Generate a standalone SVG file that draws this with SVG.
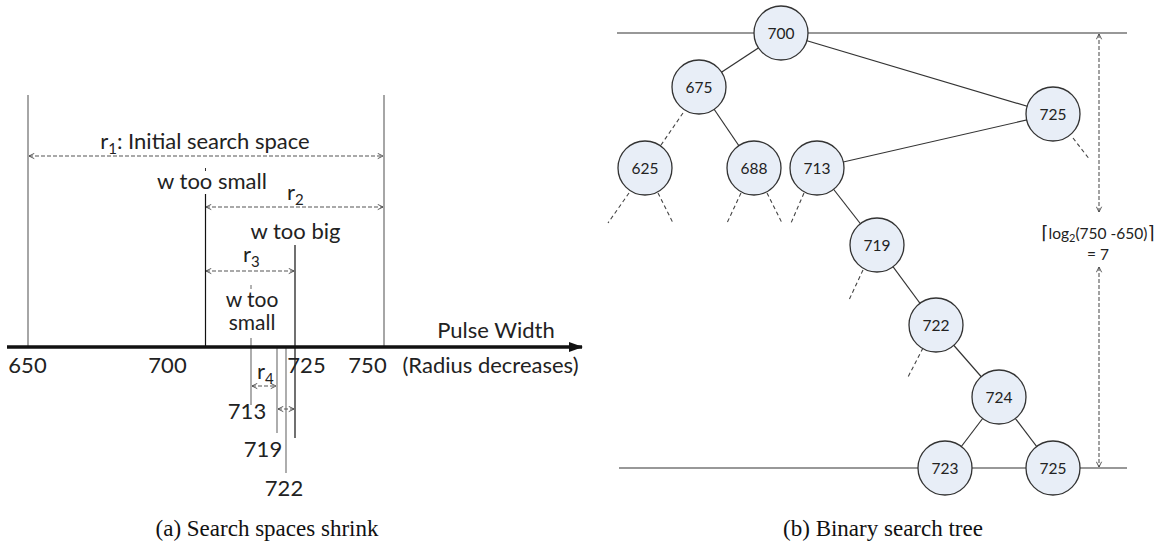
<svg xmlns="http://www.w3.org/2000/svg" width="1164" height="545" viewBox="0 0 1164 545">
<style>
.t{font-family:Lato,"Open Sans","DejaVu Sans",sans-serif;fill:#222}
.big{font-size:22px}
.nd circle{fill:#E8EEF7;stroke:#333;stroke-width:1.3}
.nd text{font-family:Lato,"Open Sans","DejaVu Sans",sans-serif;font-size:15.5px;fill:#222;text-anchor:middle}
.e{stroke:#333;stroke-width:1.2;fill:none}
.ed{stroke:#444;stroke-width:1.1;stroke-dasharray:4 3;fill:none}
.dim{stroke:#555;stroke-width:1.1;stroke-dasharray:4 2;fill:none;marker-start:url(#ah);marker-end:url(#ah)}
.cap{font-family:"Liberation Serif","Times New Roman",serif;font-size:23px;fill:#111;text-anchor:middle}
.ceil{font-family:"DejaVu Sans",sans-serif;font-size:18px}
</style>
<defs>
<marker id="ah" viewBox="0 0 8 8" refX="7" refY="4" markerWidth="7" markerHeight="7" markerUnits="userSpaceOnUse" orient="auto-start-reverse">
<path d="M1,1 L7,4 L1,7" fill="none" stroke="#444" stroke-width="1"/>
</marker>
<marker id="ax" viewBox="0 0 14 10" refX="13" refY="5" markerWidth="14" markerHeight="10" markerUnits="userSpaceOnUse" orient="auto">
<path d="M0,0 L14,5 L0,10 Z" fill="#111"/>
</marker>
</defs>

<!-- (a) Search spaces shrink -->
<g id="panel-a">
  <g id="a-lines">
    <line x1="28" y1="95" x2="28" y2="347" stroke="#888" stroke-width="1.5"/>
    <line x1="384" y1="95" x2="384" y2="347" stroke="#888" stroke-width="1.5"/>
    <line x1="205.5" y1="168" x2="205.5" y2="171" stroke="#333" stroke-width="1"/>
    <line x1="205.5" y1="194" x2="205.5" y2="347" stroke="#111" stroke-width="1.2"/>
    <line x1="295" y1="245" x2="295" y2="438" stroke="#111" stroke-width="1.2"/>
    <line x1="251" y1="285" x2="251" y2="289" stroke="#666" stroke-width="1"/>
    <line x1="251" y1="338" x2="251" y2="405" stroke="#777" stroke-width="1.2"/>
    <line x1="277" y1="348" x2="277" y2="433" stroke="#777" stroke-width="1.2"/>
    <line x1="286" y1="348" x2="286" y2="473" stroke="#777" stroke-width="1.2"/>
    <line x1="7" y1="347" x2="582" y2="347" stroke="#111" stroke-width="3.5" marker-end="url(#ax)"/>
  </g>
  <g id="a-ranges">
    <line class="dim" x1="29" y1="156" x2="383" y2="156"/>
    <line class="dim" x1="206" y1="207" x2="383" y2="207"/>
    <line class="dim" x1="206" y1="271" x2="294" y2="271"/>
    <line class="dim" x1="252" y1="386" x2="276" y2="386" stroke="#777"/>
    <line class="dim" x1="278" y1="409" x2="294" y2="409" stroke="#777"/>
  </g>
  <g id="a-labels" class="t big">
    <text x="205" y="149" text-anchor="middle">r<tspan font-size="15" dy="5">1</tspan><tspan dy="-5">: Initial search space</tspan></text>
    <text x="212" y="189" text-anchor="middle">w too small</text>
    <text x="287" y="200">r<tspan font-size="15" dy="5">2</tspan></text>
    <text x="295.5" y="239" text-anchor="middle">w too big</text>
    <text x="243" y="262">r<tspan font-size="15" dy="5">3</tspan></text>
    <text x="252" y="307" text-anchor="middle" font-size="21">w too</text>
    <text x="252" y="330" text-anchor="middle" font-size="21">small</text>
    <text x="257" y="379">r<tspan font-size="15" dy="5">4</tspan></text>
    <text x="247" y="419" text-anchor="middle">713</text>
    <text x="263" y="457" text-anchor="middle">719</text>
    <text x="284" y="496" text-anchor="middle">722</text>
    <text x="27.5" y="373" text-anchor="middle">650</text>
    <text x="167.5" y="373" text-anchor="middle">700</text>
    <text x="306.5" y="373" text-anchor="middle">725</text>
    <text x="367.5" y="373" text-anchor="middle">750</text>
    <text x="496" y="338" text-anchor="middle">Pulse Width</text>
    <text x="490.5" y="373" text-anchor="middle">(Radius decreases)</text>
  </g>
  <text class="cap" x="267" y="536">(a) Search spaces shrink</text>
</g>

<!-- (b) Binary search tree -->
<g id="connectors">
  <line class="e" x1="617" y1="33" x2="1127" y2="33"/>
  <line class="e" x1="619" y1="468" x2="1127" y2="468"/>
  <line class="e" x1="781" y1="33" x2="699" y2="87"/>
  <line class="e" x1="781" y1="33" x2="1053" y2="114"/>
  <line class="e" x1="699" y1="87" x2="754" y2="168"/>
  <line class="e" x1="1053" y1="114" x2="817" y2="168"/>
  <line class="e" x1="817" y1="168" x2="877" y2="245"/>
  <line class="e" x1="877" y1="245" x2="936" y2="325"/>
  <line class="e" x1="936" y1="325" x2="999" y2="397"/>
  <line class="e" x1="999" y1="397" x2="945" y2="468"/>
  <line class="e" x1="999" y1="397" x2="1053" y2="468"/>
  <line class="ed" x1="683" y1="113" x2="661" y2="145"/>
  <line class="ed" x1="629" y1="193" x2="608" y2="223"/>
  <line class="ed" x1="658" y1="193" x2="673" y2="223"/>
  <line class="ed" x1="741" y1="193" x2="727" y2="223"/>
  <line class="ed" x1="767" y1="193" x2="782" y2="223"/>
  <line class="ed" x1="804" y1="193" x2="791" y2="223"/>
  <line class="ed" x1="1073" y1="138" x2="1090" y2="160"/>
  <line class="ed" x1="863" y1="270" x2="849" y2="300"/>
  <line class="ed" x1="923" y1="348" x2="908" y2="377"/>
  <line class="dim" x1="1099" y1="34" x2="1099" y2="212" marker-end="none"/>
  <line class="dim" x1="1099" y1="267" x2="1099" y2="467" marker-start="none"/>
</g>
<g id="n700" class="nd"><circle cx="781" cy="33" r="27"/><text x="781" y="38.5">700</text></g>
<g id="n675" class="nd"><circle cx="699" cy="87" r="27"/><text x="699" y="92.5">675</text></g>
<g id="n625" class="nd"><circle cx="645" cy="168" r="27"/><text x="645" y="173.5">625</text></g>
<g id="n688" class="nd"><circle cx="754" cy="168" r="27"/><text x="754" y="173.5">688</text></g>
<g id="n713" class="nd"><circle cx="817" cy="168" r="27"/><text x="817" y="173.5">713</text></g>
<g id="n725a" class="nd"><circle cx="1053" cy="114" r="27"/><text x="1053" y="119.5">725</text></g>
<g id="n719" class="nd"><circle cx="877" cy="245" r="27"/><text x="877" y="250.5">719</text></g>
<g id="n722" class="nd"><circle cx="936" cy="325" r="27"/><text x="936" y="330.5">722</text></g>
<g id="n724" class="nd"><circle cx="999" cy="397" r="27"/><text x="999" y="402.5">724</text></g>
<g id="n723" class="nd"><circle cx="945" cy="468" r="27"/><text x="945" y="473.5">723</text></g>
<g id="n725b" class="nd"><circle cx="1053" cy="468" r="27"/><text x="1053" y="473.5">725</text></g>
<g id="height-label" class="t" font-size="15.5" text-anchor="middle">
  <text x="1098" y="239"><tspan class="ceil">⌈</tspan>log<tspan font-size="11" dy="3">2</tspan><tspan dy="-3">(750 -650)</tspan><tspan class="ceil">⌉</tspan></text>
  <text x="1098" y="260">= 7</text>
</g>
<text class="cap" x="883" y="536">(b) Binary search tree</text>
</svg>
